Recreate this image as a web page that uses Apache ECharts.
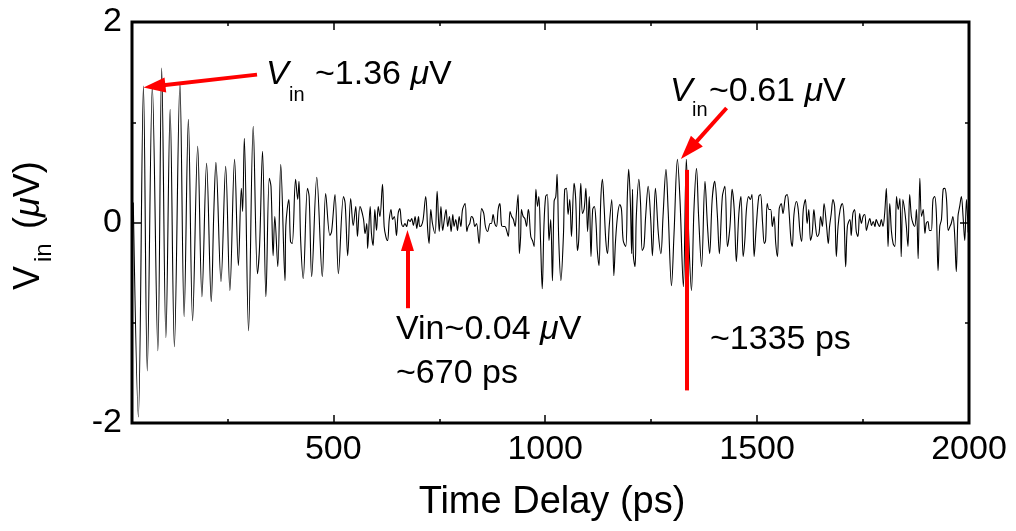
<!DOCTYPE html>
<html>
<head>
<meta charset="utf-8">
<script src="https://cdn.jsdelivr.net/npm/echarts@6/dist/echarts.min.js"></script>
<style>
  html, body { margin: 0; padding: 0; background: #fff; }
  #chart { width: 1016px; height: 531px; }
</style>
</head>
<body>
<div id="chart"></div>
<script>
// time delay (ps), Vin (uV), split into windows
var ringdown = [[28,0.2],[40,-1.94],[52,1.36],[61,-1.48],[73,1.36],[86,-1.28],[95,1.54],[105,-1.15],[115,1.13],[125,-1.24],[138,1.39],[148,-0.94],[158,1.03],[168,-0.98],[180,0.76],[190,-0.74],[201,0.59],[212,-0.79],[218,0.1],[223,0.6],[235,-0.59],[246,0.56],[256,-0.68],[267,0.63],[276,-0.43],[283,0.34],[286,0.11],[290,0.84],[300,-1.08]];
var decay = [[311,0.96],[321,-0.51],[326,-0.24],[333,0.71],[341,-0.74],[349,0.44],[353,0.36],[358,-0.33],[362,0.06],[369,-0.44],[376,0.58],[386,-0.58],[388,-0.03],[395,0.23],[399,-0.19],[403,-0.21],[411,0.43],[416,0.23],[419,0.41],[423,-0.18],[429,-0.56],[439,0.34],[443,0.26],[449,-0.54],[461,0.45],[474,-0.54],[482,0.29],[492,-0.13],[496,-0.09],[504,0.28],[512,-0.51],[524,0.26],[528,0.19],[534,-0.33],[541,0.24],[547,-0.03],[553,0.16],[557,-0.14],[563,0.16],[571,0.04],[575,-0.11],[579,-0.01],[581,-0.26],[587,0.16]];
var quiet = [[590,-0.11],[594,-0.23],[598,0.13],[602,-0.08],[606,0.16],[610,0.06],[616,0.38],[620,-0.04],[624,-0.14],[628,-0.18],[632,0.03],[636,0.13],[640,0.03],[644,0.06],[649,-0.13],[653,0.09],[657,0.14],[661,-0.01],[665,-0.04],[669,-0.01],[673,-0.04],[677,0.03],[681,0.01],[685,0.04],[689,-0.03],[693,0.06],[697,-0.06],[701,0.06],[704,-0.04],[708,-0.03],[712,0.03],[718,0.26],[723,-0.09],[726,-0.21],[730,0.13],[734,-0.01],[740,-0.11],[745,0.31],[750,-0.09],[754,0.16],[758,-0.08],[762,0.03],[766,0.13],[770,-0.04],[774,0.06],[778,-0.09],[782,0.08],[785,-0.04],[789,0.03],[793,-0.08],[797,0.06],[801,-0.04],[805,0.13],[811,0.19],[815,-0.09],[818,-0.04],[822,-0.01],[826,0.06],[830,0.04],[834,-0.04],[838,-0.01],[844,-0.21],[850,0.14],[855,0.09],[859,-0.04],[864,-0.09],[870,-0.01]];
var revival = [[873,-0.01],[877,0.08],[881,-0.01],[885,-0.04],[889,0.13],[893,0.19],[897,-0.03],[901,-0.04],[905,-0.04],[909,-0.08],[913,-0.14],[917,0.11],[921,0.06],[925,0.03],[929,-0.04],[932,0.09],[936,0.28],[939,-0.31],[942,-0.14],[944,0.13],[948,0.06],[952,0.04],[956,-0.04],[960,0.13],[962,0.09],[966,-0.14],[970,-0.18],[974,-0.24],[978,0.33],[982,0.16],[985,0.26],[989,-0.18],[993,-0.66],[997,-0.04],[1001,0.26],[1005,0.28],[1009,-0.18],[1013,0.03],[1017,-0.58],[1021,0.21],[1025,0.26],[1028,0.48],[1032,-0.18],[1037,-0.58],[1043,-0.13],[1046,0.33],[1050,0.34],[1054,0.08],[1058,0.23],[1062,-0.14],[1068,0.39],[1072,0.23],[1076,-0.28],[1079,-0.18],[1084,0.39],[1088,0.09],[1092,0.14],[1096,0.34],[1100,-0.09],[1104,0.26],[1108,-0.34],[1112,0.13],[1116,0.16],[1120,-0.01],[1123,-0.28],[1127,-0.43],[1131,0.21],[1135,0.43],[1139,0.16],[1143,-0.18],[1147,-0.31],[1151,-0.04]];
var echo = [[1157,0.23],[1162,-0.53],[1166,-0.18],[1171,0.08],[1176,0.18],[1180,0.13],[1184,-0.18],[1190,-0.24],[1194,0.29],[1197,0.53],[1201,0.19],[1204,-0.31],[1206,0.33],[1208,-0.33],[1212,-0.44],[1215,0.06],[1221,0.43],[1225,0.19],[1229,-0.28],[1233,-0.24],[1237,0.06],[1243,0.36],[1249,0.03],[1253,-0.33],[1260,0.34],[1267,-0.11],[1273,-0.31],[1278,0.06],[1285,0.53],[1290,0.13],[1298,-0.63],[1304,-0.11],[1312,0.63],[1318,0.23],[1326,-0.64],[1333,0.63],[1339,-0.18],[1345,-0.68],[1351,0.13],[1357,0.54],[1362,0.06],[1369,-0.44],[1377,0.41],[1383,-0.04],[1388,-0.31],[1394,0.23],[1400,0.41],[1406,0.09],[1411,-0.31],[1418,0.26],[1424,0.36],[1430,-0.24],[1436,-0.04]];
var tail1 = [[1441,0.33],[1446,0.13],[1451,-0.39],[1457,0.09],[1462,0.26],[1467,-0.34],[1471,-0.18],[1475,0.14],[1480,0.26],[1484,0.23],[1488,0.28],[1493,-0.34],[1498,-0.04],[1504,0.26],[1508,0.28],[1513,-0.01],[1517,-0.21],[1520,-0.18],[1524,0.19],[1528,0.13],[1532,0.13],[1536,-0.04],[1540,0.06],[1544,-0.21],[1548,-0.34],[1552,0.13],[1557,0.19],[1561,0.09],[1567,0.26],[1571,0.28],[1575,0.13],[1580,-0.18],[1583,-0.24],[1587,0.08],[1593,0.21],[1597,0.13],[1601,-0.09],[1605,-0.19],[1609,0.13],[1614,0.23],[1618,-0.01],[1622,0.13],[1626,-0.18],[1630,-0.11],[1634,0.13],[1638,-0.04],[1642,-0.14],[1646,-0.11],[1650,0.06],[1654,-0.04],[1658,0.19],[1664,-0.04],[1668,-0.21],[1671,-0.04],[1675,0.09],[1679,0.23],[1683,0.16],[1687,-0.34],[1691,-0.04],[1696,0.13],[1701,0.19],[1705,0.06],[1709,-0.44],[1713,-0.04],[1719,0.03]];
var tail2 = [[1722,-0.13],[1726,0.09],[1730,0.13],[1734,-0.09],[1738,-0.14],[1742,0.09],[1746,-0.01],[1750,0.06],[1754,0.08],[1758,-0.08],[1762,-0.01],[1766,0.04],[1770,-0.03],[1774,0.01],[1778,-0.04],[1781,0.03],[1785,-0.01],[1789,-0.04],[1793,0.03],[1797,-0.04],[1801,0.09],[1805,0.34],[1809,-0.24],[1813,0.19],[1817,-0.09],[1821,-0.21],[1825,-0.24],[1829,0.26],[1833,0.13],[1837,0.24],[1840,-0.34],[1844,0.23],[1848,0.13],[1852,-0.03],[1856,-0.24],[1860,0.28],[1864,0.06],[1868,-0.01],[1872,-0.04],[1876,0.13],[1880,-0.36],[1884,0.44],[1888,0.06],[1892,0.13],[1896,-0.11],[1899,-0.01],[1903,0.01],[1907,-0.08],[1911,-0.08],[1915,0.23],[1919,0.26],[1923,0.09],[1927,-0.48],[1931,-0.04],[1935,0.03],[1939,0.33],[1943,0.34],[1947,0.23],[1951,-0.08],[1955,-0.04],[1958,-0.01],[1962,0.06],[1966,-0.11],[1970,-0.49],[1974,0.06],[1978,0.16],[1982,0.26],[1986,0.06],[1990,-0.18],[1994,0.23],[1998,-0.1]];

var xMajorTicks = [500, 1000, 1500, 2000];
var xMinorTicks = [250, 750, 1250, 1750];

// arrows: [tail, head] in (ps, uV)
var arrowAmp1 = [[320, 1.475], [78, 1.36]];
var arrowMin = [[675, -0.855], [675, -0.18]];
var arrowAmp2 = [[1428, 1.142], [1339, 0.722]];
var markerLine = [[1335, 0.525], [1335, -1.675]];

var trace = ringdown.concat(decay, quiet, revival, echo, tail1, tail2);

var FONT = '"Liberation Sans", Arial, sans-serif';
var RED = '#ff0000';

var eventDOM = document.getElementById('chart');
var chart = echarts.init(eventDOM, null, { renderer: 'canvas' });

function xTickAxis(pos, values, len, withLabels) {
  return {
    type: 'value',
    position: pos,
    min: 25,
    max: 2000,
    axisLine: { show: false, onZero: false },
    splitLine: { show: false },
    axisTick: {
      show: true, inside: true, length: len, customValues: values,
      lineStyle: { color: '#000', width: 1.5 }
    },
    axisLabel: withLabels ? {
      show: true, customValues: values, color: '#000',
      fontSize: 34, fontFamily: FONT, margin: 10,
      formatter: function (v) { return String(v); }
    } : { show: false }
  };
}

function yTickAxis(pos, withLabels) {
  return {
    type: 'value',
    position: pos,
    min: -2,
    max: 2,
    interval: 2,
    axisLine: { show: false, onZero: false },
    splitLine: { show: false },
    axisTick: { show: true, inside: true, length: 9, lineStyle: { color: '#000', width: 1.5 } },
    minorTick: { show: true, splitNumber: 2, length: 4, lineStyle: { color: '#000', width: 1.5 } },
    axisLabel: withLabels ? {
      show: true, color: '#000', fontSize: 34, fontFamily: FONT, margin: 10
    } : { show: false }
  };
}

function arrow(pts, head) {
  return [
    { coord: pts[0], symbol: 'none' },
    { coord: pts[1], symbol: head ? 'triangle' : 'none', symbolSize: head }
  ];
}

function txt(x, y, s, size, italic) {
  return {
    type: 'text', x: x, y: y, silent: true,
    style: {
      text: s, fill: '#000', fontSize: size, fontFamily: FONT,
      fontStyle: italic ? 'italic' : 'normal',
      align: 'left', verticalAlign: 'middle'
    }
  };
}

function richTxt(x, y, s, size) {
  return {
    type: 'text', x: x, y: y, silent: true,
    style: {
      text: s, fill: '#000', fontSize: size, fontFamily: FONT,
      align: 'left', verticalAlign: 'middle',
      rich: {
        mu: { fontSize: size, fontFamily: FONT, fontStyle: 'italic', fill: '#000' },
        n: { fontSize: size, fontFamily: FONT, fill: '#000' }
      }
    }
  };
}

var option = {
  animation: false,
  backgroundColor: '#fff',
  grid: {
    left: 132, right: 47, top: 22, bottom: 108,
    show: true, borderColor: '#000', borderWidth: 3, backgroundColor: 'transparent'
  },
  xAxis: [
    xTickAxis('bottom', xMajorTicks, 8, true),
    xTickAxis('bottom', xMinorTicks, 4, false),
    xTickAxis('top', xMajorTicks, 8, false),
    xTickAxis('top', xMinorTicks, 4, false)
  ],
  yAxis: [
    yTickAxis('left', true),
    yTickAxis('right', false)
  ],
  series: [
    {
      type: 'line',
      xAxisIndex: 0,
      yAxisIndex: 0,
      data: trace,
      showSymbol: false,
      symbol: 'none',
      smooth: 0.35,
      lineStyle: { color: '#000', width: 1.1 },
      silent: true,
      markLine: {
        silent: true,
        animation: false,
        label: { show: false },
        lineStyle: { color: RED, width: 4, type: 'solid' },
        data: [
          arrow(arrowAmp1, [15, 22]),
          arrow(arrowMin, [13, 21]),
          arrow(arrowAmp2, [16, 24]),
          arrow(markerLine, null)
        ]
      }
    }
  ],
  graphic: [
    // annotation near first peak
    txt(266, 75, 'V', 34, true),
    txt(289, 95, 'in', 20, false),
    richTxt(315, 75, '~1.36 {mu|\u03bc}V', 34),
    // minimum
    richTxt(396, 330, 'Vin~0.04 {mu|\u03bc}V', 34),
    txt(396, 374, '~670 ps', 34, false),
    // revival peak
    txt(670, 92, 'V', 34, true),
    txt(692, 110, 'in', 20, false),
    richTxt(709, 92, '~0.61 {mu|\u03bc}V', 34),
    txt(710, 340, '~1335 ps', 34, false),
    // x axis title
    {
      type: 'text', x: 552, y: 503, silent: true,
      style: { text: 'Time Delay (ps)', fill: '#000', fontSize: 38, fontFamily: FONT, align: 'center', verticalAlign: 'middle' }
    },
    // y axis title, rotated
    {
      type: 'group', x: 29, y: 290, rotation: Math.PI / 2, silent: true,
      children: [
        txt(0, 0, 'V', 36, false),
        txt(28, 15, 'in', 24, false),
        richTxt(61, 0, '({mu|\u03bc}V)', 36)
      ]
    }
  ]
};

option && chart.setOption(option);
</script>
</body>
</html>
